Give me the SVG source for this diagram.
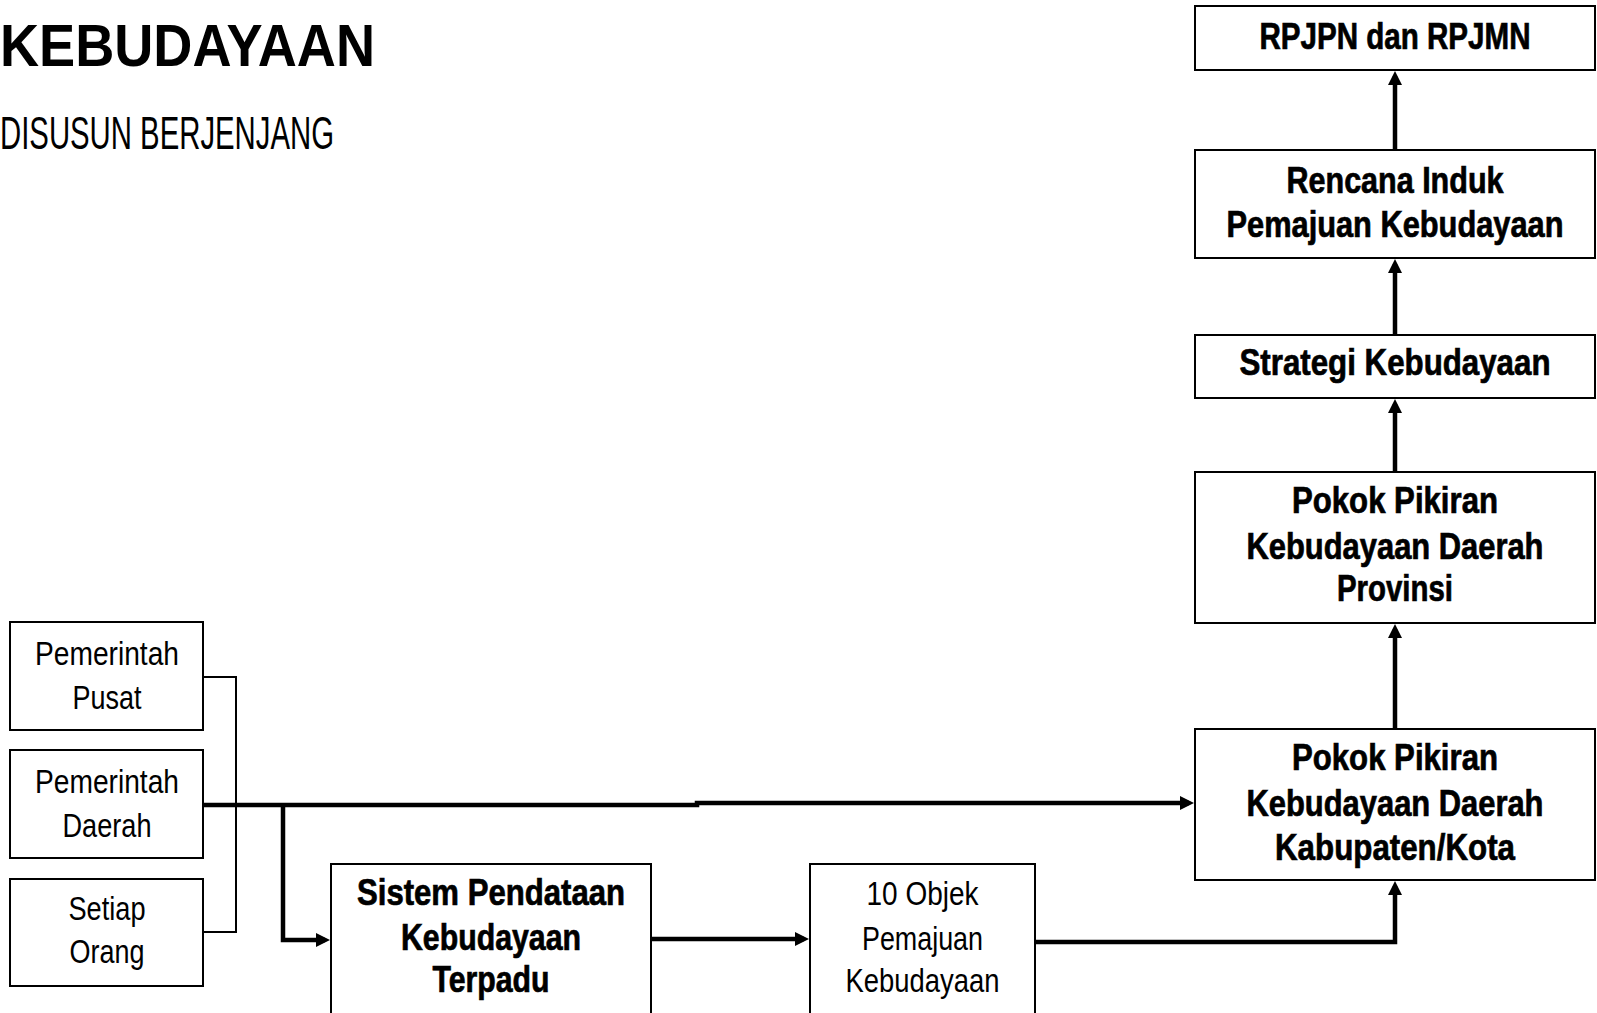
<svg xmlns="http://www.w3.org/2000/svg" width="1597" height="1013" viewBox="0 0 1597 1013">
<style>
.box{fill:#fff;stroke:#000;stroke-width:2}
.b{font-family:"Liberation Sans",Arial,sans-serif;font-weight:bold;font-size:36px;fill:#000;stroke:#000;stroke-width:0.7;text-anchor:middle}
.r{font-family:"Liberation Sans",Arial,sans-serif;font-size:33px;fill:#000;text-anchor:middle}
.thick{fill:none;stroke:#000;stroke-width:4.5;stroke-linejoin:miter}
.thin{fill:none;stroke:#000;stroke-width:2}
</style>
<defs>
<marker id="ah" viewBox="0 0 14 14" refX="9" refY="7" markerWidth="14" markerHeight="14" markerUnits="userSpaceOnUse" orient="auto">
<path d="M0,0 L14,7 L0,14 z" fill="#000"/>
</marker>
</defs>
<rect width="1597" height="1013" fill="#fff"/>
<g id="title">
<text x="0" y="66" font-family="'Liberation Sans',Arial,sans-serif" font-weight="bold" font-size="60" textLength="375" lengthAdjust="spacingAndGlyphs">KEBUDAYAAN</text>
<text x="0" y="149" font-family="'Liberation Sans',Arial,sans-serif" font-size="47" textLength="334" lengthAdjust="spacingAndGlyphs">DISUSUN BERJENJANG</text>
</g>
<g id="connectors">
<path class="thin" d="M203 677 H236 V932 H203"/>
<path class="thick" d="M203 805 H697 V803 H1189" marker-end="url(#ah)"/>
<path class="thick" d="M283 805 V940 H325" marker-end="url(#ah)"/>
<path class="thick" d="M651 939 H804" marker-end="url(#ah)"/>
<path class="thick" d="M1035 942 H1395 V886" marker-end="url(#ah)"/>
<path class="thick" d="M1395 729 V629" marker-end="url(#ah)"/>
<path class="thick" d="M1395 472 V404" marker-end="url(#ah)"/>
<path class="thick" d="M1395 335 V264" marker-end="url(#ah)"/>
<path class="thick" d="M1395 150 V76" marker-end="url(#ah)"/>
</g>
<g id="n-rpjpn">
<rect class="box" x="1195" y="6" width="400" height="64"/>
<text class="b" x="1395" y="49" textLength="271" lengthAdjust="spacingAndGlyphs">RPJPN dan RPJMN</text>
</g>
<g id="n-rencana">
<rect class="box" x="1195" y="150" width="400" height="108"/>
<text class="b" x="1395" y="193" textLength="217" lengthAdjust="spacingAndGlyphs">Rencana Induk</text>
<text class="b" x="1395" y="237" font-size="34" textLength="337" lengthAdjust="spacingAndGlyphs">Pemajuan Kebudayaan</text>
</g>
<g id="n-strategi">
<rect class="box" x="1195" y="335" width="400" height="63"/>
<text class="b" x="1395" y="375" textLength="311" lengthAdjust="spacingAndGlyphs">Strategi Kebudayaan</text>
</g>
<g id="n-prov">
<rect class="box" x="1195" y="472" width="400" height="151"/>
<text class="b" x="1395" y="513" textLength="206" lengthAdjust="spacingAndGlyphs">Pokok Pikiran</text>
<text class="b" x="1395" y="559" textLength="297" lengthAdjust="spacingAndGlyphs">Kebudayaan Daerah</text>
<text class="b" x="1395" y="601" textLength="116" lengthAdjust="spacingAndGlyphs">Provinsi</text>
</g>
<g id="n-kab">
<rect class="box" x="1195" y="729" width="400" height="151"/>
<text class="b" x="1395" y="770" textLength="206" lengthAdjust="spacingAndGlyphs">Pokok Pikiran</text>
<text class="b" x="1395" y="816" textLength="297" lengthAdjust="spacingAndGlyphs">Kebudayaan Daerah</text>
<text class="b" x="1395" y="860" textLength="240" lengthAdjust="spacingAndGlyphs">Kabupaten/Kota</text>
</g>
<g id="n-pusat">
<rect class="box" x="10" y="622" width="193" height="108"/>
<text class="r" x="107" y="665" textLength="144" lengthAdjust="spacingAndGlyphs">Pemerintah</text>
<text class="r" x="107" y="709" textLength="69" lengthAdjust="spacingAndGlyphs">Pusat</text>
</g>
<g id="n-daerah">
<rect class="box" x="10" y="750" width="193" height="108"/>
<text class="r" x="107" y="793" textLength="144" lengthAdjust="spacingAndGlyphs">Pemerintah</text>
<text class="r" x="107" y="837" textLength="89" lengthAdjust="spacingAndGlyphs">Daerah</text>
</g>
<g id="n-setiap">
<rect class="box" x="10" y="879" width="193" height="107"/>
<text class="r" x="107" y="920" textLength="77" lengthAdjust="spacingAndGlyphs">Setiap</text>
<text class="r" x="107" y="963" textLength="75" lengthAdjust="spacingAndGlyphs">Orang</text>
</g>
<g id="n-sistem">
<rect class="box" x="331" y="864" width="320" height="160"/>
<text class="b" x="491" y="905" textLength="268" lengthAdjust="spacingAndGlyphs">Sistem Pendataan</text>
<text class="b" x="491" y="950" textLength="180" lengthAdjust="spacingAndGlyphs">Kebudayaan</text>
<text class="b" x="491" y="992" textLength="117" lengthAdjust="spacingAndGlyphs">Terpadu</text>
</g>
<g id="n-objek">
<rect class="box" x="810" y="864" width="225" height="160"/>
<text class="r" x="922.5" y="905" textLength="112" lengthAdjust="spacingAndGlyphs">10 Objek</text>
<text class="r" x="922.5" y="950" textLength="121" lengthAdjust="spacingAndGlyphs">Pemajuan</text>
<text class="r" x="922.5" y="992" textLength="154" lengthAdjust="spacingAndGlyphs">Kebudayaan</text>
</g>
</svg>
